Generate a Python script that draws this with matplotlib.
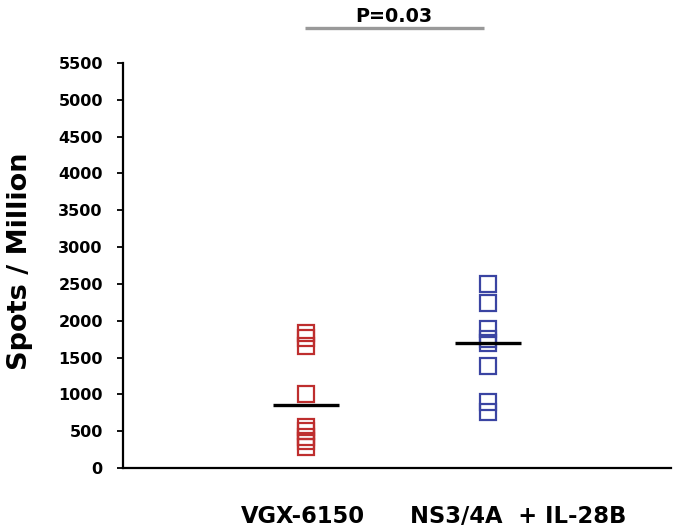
import matplotlib
matplotlib.use("Agg")
import matplotlib.pyplot as plt

# ---- data ----
groups = ["VGX-6150", "NS3/4A  + IL-28B"]
vgx_values = [1830, 1770, 1660, 1010, 560, 500, 420, 370, 290]
ns3_values = [2496, 2246, 1888, 1752, 1692, 1382, 903, 762]
group_means = [850, 1695]
y_ticks = [0, 500, 1000, 1500, 2000, 2500, 3000, 3500, 4000, 4500, 5000, 5500]
p_text = "P=0.03"
y_label = "Spots / Million"

plt.rcParams['font.family'] = ['DejaVu Sans']

fig = plt.figure(figsize=(6.75, 5.31), dpi=100)
ax = fig.add_axes([0.1822, 0.1186, 0.812, 0.7628])

positions = [1, 2]
colors = ["#BE2E2E", "#3A44A2"]
for pos, vals, col in zip(positions, [vgx_values, ns3_values], colors):
    ax.plot([pos] * len(vals), vals, linestyle='none', marker='s', markersize=12.2,
            markerfacecolor='none', markeredgecolor=col, markeredgewidth=1.6, clip_on=False)
for pos, m in zip(positions, group_means):
    ax.hlines(m, pos - 0.18, pos + 0.18, color='black', linewidth=2.4, zorder=3)

ax.set_xlim(0, 3)
ax.set_ylim(0, 5500)
ax.set_yticks(y_ticks)
ax.set_yticklabels([str(t) for t in y_ticks], fontsize=11.5, fontweight='bold')
ax.tick_params(axis='y', direction='out', length=4.5, width=1.3, pad=10)
ax.set_xticks([])
for s in ['top', 'right']:
    ax.spines[s].set_visible(False)
for s in ['left', 'bottom']:
    ax.spines[s].set_linewidth(1.6)

fig.text(0.0296, 0.5085, y_label, rotation=90, ha='center', va='center',
         fontsize=19.5, fontweight='bold')

# category labels
label_x = [0.984, 2.164]
for lx, g in zip(label_x, groups):
    ax.annotate(g, xy=(lx, 0), xytext=(0, -39.6), textcoords='offset points',
                ha='center', va='baseline', fontsize=16.3, fontweight='bold',
                annotation_clip=False)

# significance bar
ax.plot([0.995, 1.978], [5976, 5976], color='#999999', linewidth=2.4, clip_on=False,
        solid_capstyle='butt')
ax.text(1.48, 6062, p_text, ha='center', va='baseline', fontsize=13.8, fontweight='bold')

fig.savefig("out.png", dpi=100)
